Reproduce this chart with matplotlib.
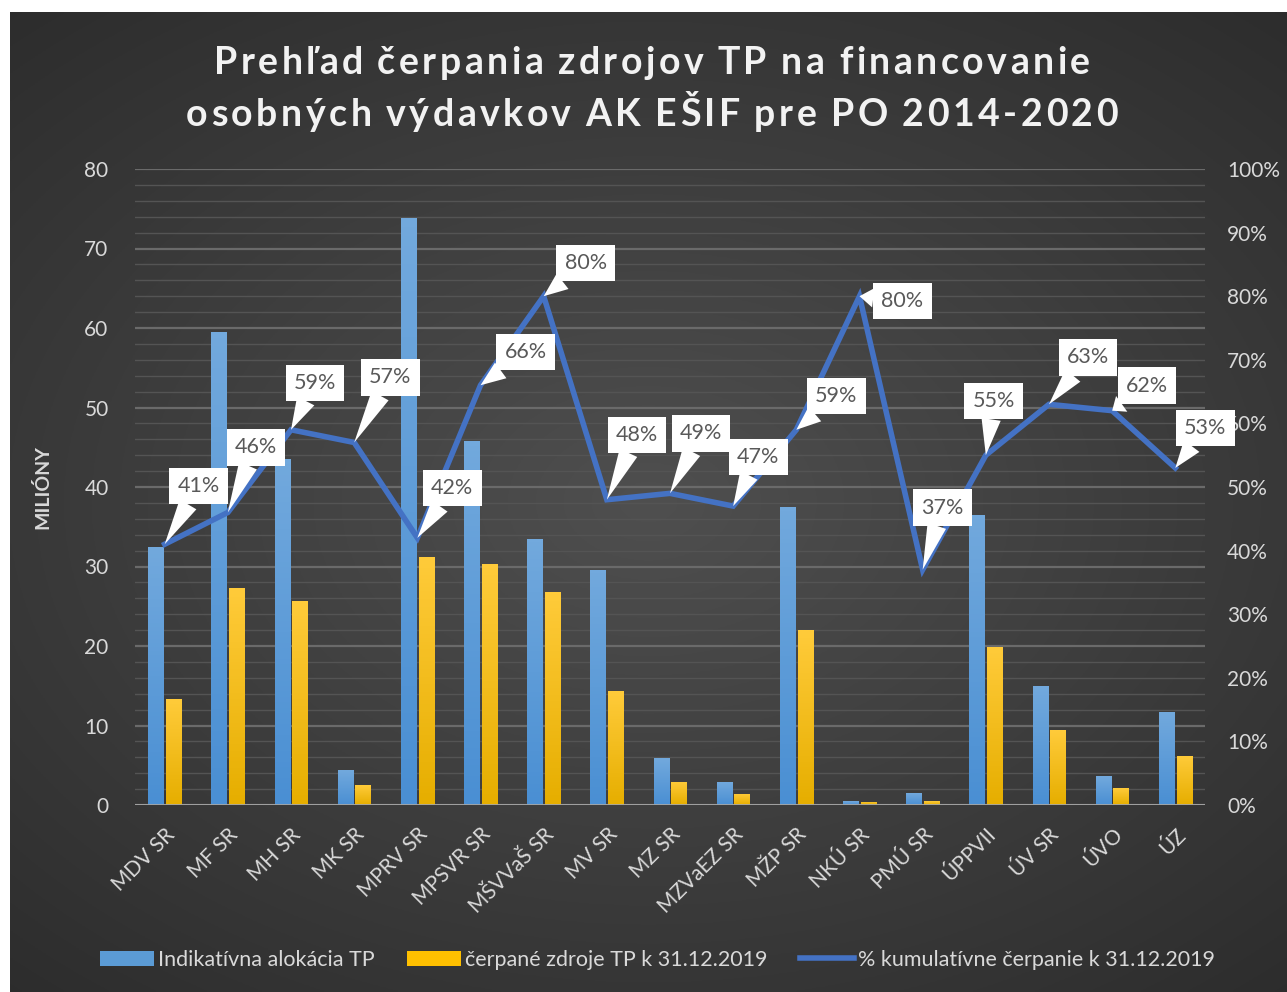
import matplotlib.pyplot as plt
import numpy as np
from matplotlib.ticker import MultipleLocator, PercentFormatter
from matplotlib.colors import LinearSegmentedColormap

plt.rcParams['font.family'] = ['Lato', 'DejaVu Sans']

# data
urady = ["MDV SR", "MF SR", "MH SR", "MK SR", "MPRV SR", "MPSVR SR", "MŠVVaŠ SR",
         "MV SR", "MZ SR", "MZVaEZ SR", "MŽP SR", "NKÚ SR", "PMÚ SR", "ÚPPVII",
         "ÚV SR", "ÚVO", "ÚZ"]
alokacia = [32.5, 59.5, 43.5, 4.4, 73.8, 45.8, 33.5, 29.6, 5.9, 2.9, 37.5, 0.5, 1.5,
            36.5, 15.0, 3.6, 11.7]
cerpane = [13.3, 27.3, 25.7, 2.5, 31.2, 30.3, 26.8, 14.3, 2.9, 1.4, 22.0, 0.4, 0.5,
           19.9, 9.4, 2.1, 6.2]
percenta = [41, 46, 59, 57, 42, 66, 80, 48, 49, 47, 59, 80, 37, 55, 63, 62, 53]

# posun bublin (pixely)
posun = [(34, 58), (28, 65), (24, 47), (36, 65), (35, 50), (45, 33), (42, 33),
         (30, 65), (31, 60), (25, 49), (40, 34), (43, -5), (20, 62), (8, 54),
         (39, 47), (35, 25), (30, 40)]

nadpis = ["Prehľad čerpania zdrojov TP na financovanie",
          "osobných výdavkov AK EŠIF pre PO 2014-2020"]

fig = plt.figure(figsize=(12.87, 9.92), dpi=100, facecolor="white")
W, H = 1287, 992

# pozadie s gradientom
bg = fig.add_axes([10 / W, 0, 1277 / W, 980 / H])
yy, xx = np.mgrid[-1:1:400j, -1:1:500j]
r = np.sqrt((xx * 0.9) ** 2 + (yy * 1.0) ** 2)
val = 0.31 - 0.14 * np.clip(r, 0, 1.4) / 1.4
bg.imshow(np.dstack([val, val, val]), aspect="auto", extent=[0, 1, 0, 1])
bg.set_axis_off()

ax = fig.add_axes([135 / W, 1 - 805 / H, (1205 - 135) / W, (805 - 169) / H])
ax.set_facecolor("none")
x = np.arange(len(urady))
w = 0.24
b1 = ax.bar(x - 0.14, alokacia, w, color="#5b9bd5", label="Indikatívna alokácia TP", zorder=3)
b2 = ax.bar(x + 0.14, cerpane, w, color="#ffc000", label="čerpané zdroje TP k 31.12.2019", zorder=3)

# jemny gradient v stlpcoch
cm_modra = LinearSegmentedColormap.from_list("m", ["#4a8fd3", "#72a9dd"])
cm_zlta = LinearSegmentedColormap.from_list("z", ["#e6ae00", "#ffcb3a"])
grad = np.linspace(0, 1, 64).reshape(-1, 1)
for bars, cmap in ((b1, cm_modra), (b2, cm_zlta)):
    for p in bars:
        x0, y0 = p.get_x(), p.get_y()
        im = ax.imshow(grad, cmap=cmap, origin="lower", aspect="auto", zorder=3.1,
                       extent=[x0, x0 + p.get_width(), y0, y0 + p.get_height()])
        im.set_clip_path(p)
ax.set_xlim(-0.47, len(urady) - 0.53)
ax.set_ylim(0, 80)

ax.yaxis.set_major_locator(MultipleLocator(10))
ax.yaxis.set_minor_locator(MultipleLocator(2))
ax.grid(axis="y", which="major", color="#6a6a6a", lw=1.6, zorder=0)
ax.grid(axis="y", which="minor", color="#545454", lw=1.0, zorder=0)
for s in ax.spines.values():
    s.set_visible(False)
ax.axhline(0, color="#a6a6a6", lw=2, zorder=4)
ax.tick_params(axis="both", which="both", length=0, colors="#d9d9d9", labelsize=15)
ax.tick_params(axis="y", pad=19)
ax.set_xticks(x)
ax.set_xticklabels(urady, rotation=45, ha="right", rotation_mode="anchor")
ax.tick_params(axis="x", pad=14)
ax.set_ylabel("MILIÓNY", color="#d9d9d9", fontsize=14, fontweight="bold", labelpad=24)

ax2 = ax.twinx()
ax2.set_ylim(0, 100)
ax2.yaxis.set_major_locator(MultipleLocator(10))
ax2.yaxis.set_major_formatter(PercentFormatter(decimals=0))
for s in ax2.spines.values():
    s.set_visible(False)
ax2.tick_params(axis="y", length=0, colors="#d9d9d9", labelsize=15, pad=16)
ax2.plot(x, percenta, color="#4472c4", lw=4, zorder=5,
         label="% kumulatívne čerpanie k 31.12.2019", solid_joinstyle="miter")

for i, p in enumerate(percenta):
    dx, dy = posun[i]
    ax2.annotate(f"{p}%", xy=(i, p), xytext=(dx, dy), textcoords="offset pixels",
                 ha="center", va="center", fontsize=15.5, color="#595959", zorder=6,
                 bbox=dict(boxstyle="square,pad=0.38", fc="white", ec="none"),
                 arrowprops=dict(arrowstyle="wedge,tail_width=0.9,shrink_factor=0.5",
                                 fc="white", ec="none", shrinkA=0, shrinkB=0))

h1, l1 = ax.get_legend_handles_labels()
h2, l2 = ax2.get_legend_handles_labels()
leg = fig.legend(h1 + h2, l1 + l2, loc="center", bbox_to_anchor=(0.511, 1 - 960 / H),
                 ncol=3, frameon=False, fontsize=15.5, labelcolor="#d9d9d9",
                 handlelength=2.5, handletextpad=0.2, columnspacing=1.5)

# nadpis s rozostupom pismen
renderer = fig.canvas.get_renderer()
def sirka(s):
    t = fig.text(0, 0, s, fontsize=27, fontweight="bold")
    ww = t.get_window_extent(renderer).width
    t.remove()
    return ww

zaklad = sirka("||")
medzera = 3.5
for riadok, yc in zip(nadpis, (60, 112)):
    sirky = [sirka("|" + c + "|") - zaklad for c in riadok]
    sirky = [sw * 0.8 if c == " " else sw for c, sw in zip(riadok, sirky)]
    spolu = sum(sirky) + medzera * (len(riadok) - 1)
    xp = 652 - spolu / 2
    for c, sw in zip(riadok, sirky):
        fig.text(xp / W, 1 - yc / H, c, fontsize=27, fontweight="bold", color="#f2f2f2",
                 ha="left", va="center_baseline")
        xp += sw + medzera

fig.savefig("out.png", dpi=100, facecolor="white")
